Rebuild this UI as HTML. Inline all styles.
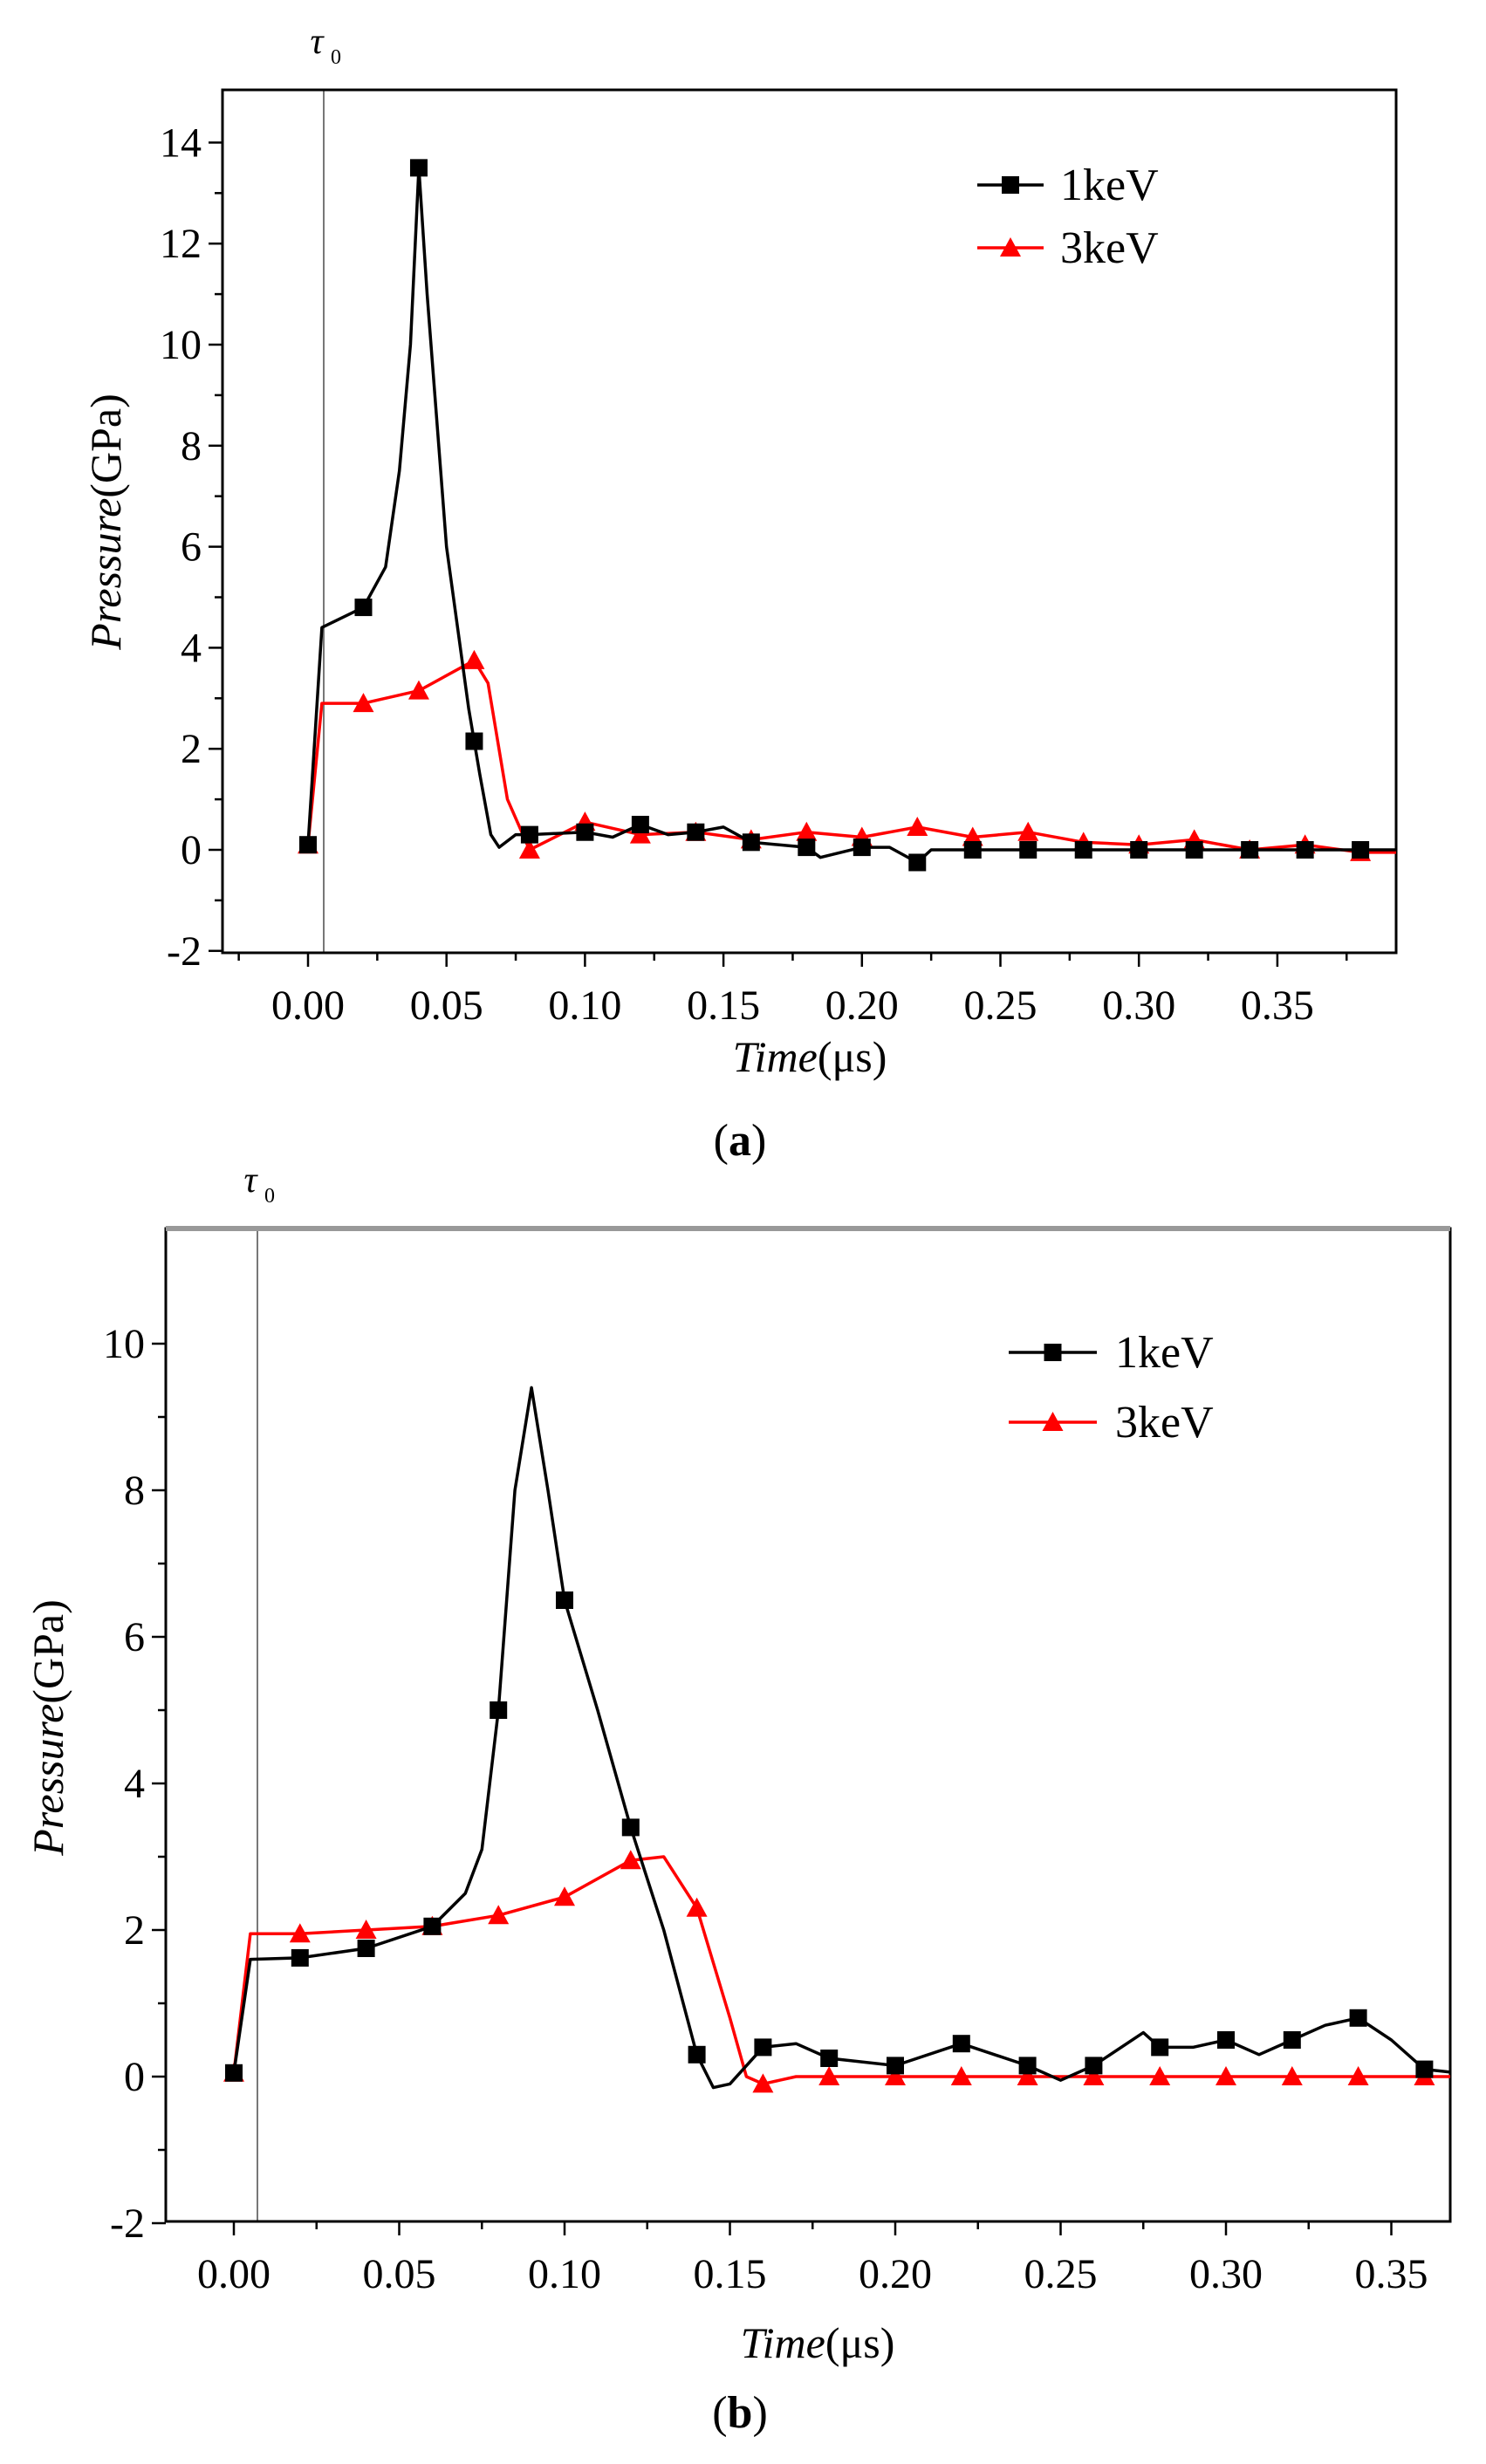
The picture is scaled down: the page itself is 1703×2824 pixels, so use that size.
<!DOCTYPE html>
<html><head><meta charset="utf-8">
<style>html,body{margin:0;padding:0;background:#fff}svg{display:block}</style>
</head><body>
<svg id="s" width="1703" height="2824" xmlns="http://www.w3.org/2000/svg" font-family="'Liberation Serif', serif"></svg>
<script>
const S=document.getElementById('s');let h='';
function chart(c){
 const X=t=>c.x0+t/0.05*c.dx, Y=v=>c.y0-v*c.dy;
 h+=`<defs><clipPath id="${c.id}"><rect x="${c.L}" y="${c.T}" width="${c.R-c.L}" height="${c.B-c.T}"/></clipPath></defs>`;
 h+=`<line x1="${c.tau}" y1="${c.T}" x2="${c.tau}" y2="${c.B}" stroke="#777" stroke-width="2"/>`;
 for(let v=c.ymin;v<=c.ymax;v+=1){const y=Y(v),maj=(v%2===0);h+=`<line x1="${c.L}" y1="${y}" x2="${c.L-(maj?16:9)}" y2="${y}" stroke="#000" stroke-width="2.5"/>`;
  if(maj)h+=`<text x="${c.L-24}" y="${y+16}" font-size="48" text-anchor="end">${v}</text>`;}
 for(let i=-1;i<=16;i++){const t=i*0.025,x=X(t);if(x<c.L||x>c.R)continue;const maj=i%2===0;h+=`<line x1="${x}" y1="${c.B}" x2="${x}" y2="${c.B+(maj?16:9)}" stroke="#000" stroke-width="2.5"/>`;
  if(maj&&i>=0&&i<=14)h+=`<text x="${x}" y="${c.B+76}" font-size="48" text-anchor="middle">${t.toFixed(2)}</text>`;}
 h+=`<rect x="${c.L}" y="${c.T}" width="${c.R-c.L}" height="${c.B-c.T}" fill="none" stroke="#000" stroke-width="3"/>`;
 if(c.grayTop)h+=`<line x1="${c.L}" y1="${c.T}" x2="${c.R}" y2="${c.T}" stroke="#999" stroke-width="6"/>`;
 function ser(pts,col,mk,mvals){
  let d='';pts.forEach((p,i)=>{d+=(i?'L':'M')+X(p[0]).toFixed(1)+','+Y(p[1]).toFixed(1)});
  h+=`<g clip-path="url(#${c.id})"><path d="${d}" fill="none" stroke="${col}" stroke-width="3.5" stroke-linejoin="round"/>`;
  mvals.forEach(p=>{const x=X(p[0]),y=Y(p[1]);
   if(mk==='s')h+=`<rect x="${x-10}" y="${y-10}" width="20" height="20" fill="#000"/>`;
   else h+=`<polygon points="${x},${y-12} ${x-12},${y+10} ${x+12},${y+10}" fill="#f00"/>`;});
  h+='</g>';
 }
 const interp=(pts,t)=>{for(let i=1;i<pts.length;i++){if(pts[i][0]>=t){const a=pts[i-1],b=pts[i];return a[1]+(b[1]-a[1])*(t-a[0])/(b[0]-a[0]||1);}}return pts[pts.length-1][1];};
 const m=(pts)=>{const r=[];for(let i=0;i<=19;i++){const t=i*0.02;r.push([t,interp(pts,t)]);}return r;};
 ser(c.red,'#f00','t',m(c.red));
 ser(c.blk,'#000','s',m(c.blk));
 const lg=c.leg,mx=(lg.x1+lg.x2)/2;
 h+=`<line x1="${lg.x1}" y1="${lg.y1}" x2="${lg.x2}" y2="${lg.y1}" stroke="#000" stroke-width="3.5"/><rect x="${mx-10}" y="${lg.y1-10}" width="20" height="20"/>`;
 h+=`<line x1="${lg.x1}" y1="${lg.y2}" x2="${lg.x2}" y2="${lg.y2}" stroke="#f00" stroke-width="3.5"/><polygon points="${mx},${lg.y2-12} ${mx-12},${lg.y2+10} ${mx+12},${lg.y2+10}" fill="#f00"/>`;
 h+=`<text x="${lg.tx}" y="${lg.y1+17}" font-size="52">1keV</text><text x="${lg.tx}" y="${lg.y2+17}" font-size="52">3keV</text>`;
 h+=`<text transform="translate(${c.pl[0]},${c.pl[1]}) rotate(-90)" font-size="50" text-anchor="middle"><tspan font-style="italic">Pressure</tspan>(GPa)</text>`;
 h+=`<text x="${c.tl[0]}" y="${c.tl[1]}" font-size="50" text-anchor="middle"><tspan font-style="italic">Time</tspan>(μs)</text>`;
 h+=`<text x="${c.cap[0]}" y="${c.cap[1]}" font-size="52" text-anchor="middle">(<tspan font-weight="bold">${c.lab}</tspan>)</text>`;
 h+=`<text x="${c.tau-8}" y="${c.T-42}" font-size="42" font-style="italic" text-anchor="middle">τ</text><text x="${c.tau+8}" y="${c.T-30}" font-size="24">0</text>`;
}
chart({id:'ca',L:255,R:1600,T:103,B:1092,x0:353,dx:158.7,y0:974,dy:57.9,ymin:-2,ymax:14,tau:371,
 blk:[[0,0.1],[0.005,4.4],[0.02,4.8],[0.028,5.6],[0.033,7.5],[0.037,10],[0.04,13.5],[0.043,11],[0.05,6],[0.058,2.8],[0.062,1.5],[0.066,0.3],[0.069,0.05],[0.075,0.3],[0.08,0.3],[0.1,0.35],[0.11,0.25],[0.12,0.5],[0.13,0.3],[0.14,0.35],[0.15,0.45],[0.16,0.15],[0.18,0.05],[0.185,-0.15],[0.2,0.05],[0.21,0.05],[0.22,-0.25],[0.225,0],[0.4,0]],
 red:[[0,0.1],[0.005,2.9],[0.02,2.9],[0.04,3.15],[0.06,3.75],[0.065,3.3],[0.072,1.0],[0.08,0],[0.1,0.55],[0.12,0.3],[0.14,0.35],[0.16,0.2],[0.18,0.35],[0.2,0.25],[0.22,0.45],[0.24,0.25],[0.26,0.35],[0.28,0.15],[0.3,0.1],[0.32,0.2],[0.34,0.0],[0.36,0.1],[0.38,-0.05],[0.4,-0.05]],
 leg:{x1:1120,x2:1196,y1:212,y2:284,tx:1215},pl:[138,598],tl:[928,1228],cap:[848,1324],lab:'a'});
chart({id:'cb',L:190,R:1662,T:1408,B:2546,x0:268,dx:189.5,y0:2380,dy:84,ymin:-2,ymax:10,tau:295,grayTop:1,
 blk:[[0,0.05],[0.005,1.6],[0.02,1.62],[0.04,1.75],[0.06,2.05],[0.07,2.5],[0.075,3.1],[0.08,5],[0.085,8],[0.09,9.4],[0.095,8],[0.1,6.5],[0.11,5],[0.12,3.4],[0.13,2],[0.14,0.3],[0.145,-0.15],[0.15,-0.1],[0.16,0.4],[0.17,0.45],[0.18,0.25],[0.2,0.15],[0.22,0.45],[0.24,0.15],[0.25,-0.05],[0.26,0.15],[0.275,0.6],[0.28,0.4],[0.29,0.4],[0.3,0.5],[0.31,0.3],[0.32,0.5],[0.33,0.7],[0.34,0.8],[0.35,0.5],[0.36,0.1],[0.37,0.05],[0.375,-0.2],[0.39,-0.25]],
 red:[[0,0.05],[0.005,1.95],[0.02,1.95],[0.04,2.0],[0.06,2.05],[0.08,2.2],[0.1,2.45],[0.12,2.95],[0.13,3.0],[0.14,2.3],[0.15,0.8],[0.155,0],[0.16,-0.1],[0.165,-0.05],[0.17,0],[0.4,0]],
 leg:{x1:1156,x2:1257,y1:1550,y2:1630,tx:1278},pl:[72,1980],tl:[937,2702],cap:[848,2782],lab:'b'});
S.innerHTML=h;
</script>
</body></html>
